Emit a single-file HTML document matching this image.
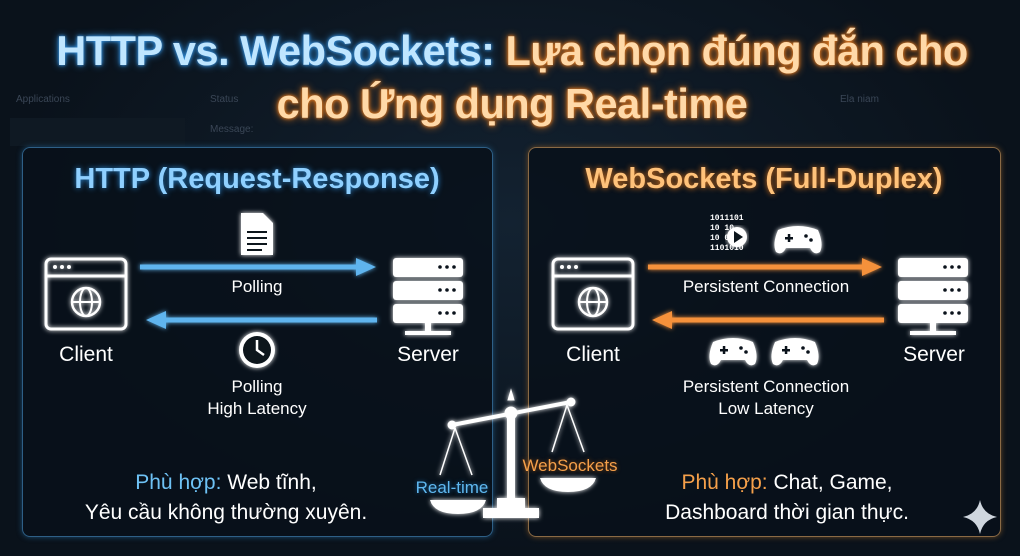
<!DOCTYPE html>
<html><head><meta charset="utf-8"><style>
body{margin:0;width:1020px;height:556px;overflow:hidden;background:#0a121b;font-family:"Liberation Sans","Noto Sans CJK SC",sans-serif;position:relative}
.a{position:absolute}
.t{position:absolute;white-space:nowrap;text-align:center;transform:translateX(-50%)}
.panel{position:absolute;border-radius:8px;background:rgba(8,16,26,0.85)}
.faint{color:#3a4656;font-size:10px;position:absolute}
</style></head><body>
<div class="a" style="left:0;top:0;width:1020px;height:556px;background:radial-gradient(ellipse at 50% 40%,#132231 0%,#0a121b 70%)"></div>
<div class="faint" style="left:16px;top:94px">Applications</div>
<div class="faint" style="left:210px;top:94px">Status</div>
<div class="faint" style="left:840px;top:94px">Ela niam</div>
<div class="faint" style="left:48px;top:128px">Overview</div>
<div class="faint" style="left:210px;top:124px">Message:</div>
<div class="a" style="left:10px;top:118px;width:175px;height:28px;background:#0f1923"></div>

<div class="t" style="left:512px;top:24px;font-size:41.5px;font-weight:bold;letter-spacing:-0.5px;line-height:53px">
<span style="color:#bfe6ff;text-shadow:0 0 8px #2b8ad6,0 0 3px #4aa8ff">HTTP vs. WebSockets:</span> <span style="color:#ffd9a8;text-shadow:0 0 8px #e0761a,0 0 3px #ff8c2a">Lựa chọn đúng đắn cho</span><br>
<span style="color:#ffd9a8;text-shadow:0 0 8px #e0761a,0 0 3px #ff8c2a">cho Ứng dụng Real-time</span></div>

<div class="panel" style="left:22px;top:147px;width:469px;height:388px;border:1.5px solid #2e5f86;box-shadow:0 0 6px #1d4c70"></div>
<div class="panel" style="left:528px;top:147px;width:471px;height:388px;border:1.5px solid #8a6a45;box-shadow:0 0 6px #6b4a25"></div>

<div class="t" style="left:257px;top:163px;font-size:29px;font-weight:bold;color:#8fd0ff;text-shadow:0 0 6px #2b8ad6">HTTP (Request-Response)</div>
<div class="t" style="left:764px;top:163px;font-size:29px;font-weight:bold;color:#ffc27a;text-shadow:0 0 6px #e0761a">WebSockets (Full-Duplex)</div>

<svg class="a" style="left:0;top:0" width="1020" height="556">
<defs>
<filter id="g"><feGaussianBlur stdDeviation="2.5" result="b"/><feMerge><feMergeNode in="b"/><feMergeNode in="SourceGraphic"/></feMerge></filter>
</defs>
<g filter="url(#g)" stroke="#fff" fill="none" stroke-width="3">
<rect x="46" y="259" width="80" height="70" rx="5"/><line x1="46" y1="276" x2="126" y2="276"/>
<circle cx="86" cy="302" r="14" stroke-width="2.5"/><ellipse cx="86" cy="302" rx="6" ry="14" stroke-width="2"/><line x1="72" y1="302" x2="100" y2="302" stroke-width="2"/>
<rect x="553" y="259" width="80" height="70" rx="5"/><line x1="553" y1="276" x2="633" y2="276"/>
<circle cx="593" cy="302" r="14" stroke-width="2.5"/><ellipse cx="593" cy="302" rx="6" ry="14" stroke-width="2"/><line x1="579" y1="302" x2="607" y2="302" stroke-width="2"/>
</g>
<g fill="#fff" filter="url(#g)">
<circle cx="55" cy="267" r="2"/><circle cx="62" cy="267" r="2"/><circle cx="69" cy="267" r="2"/>
<circle cx="562" cy="267" r="2"/><circle cx="569" cy="267" r="2"/><circle cx="576" cy="267" r="2"/>
<rect x="393" y="258" width="70" height="19" rx="3"/><rect x="393" y="281" width="70" height="19" rx="3"/><rect x="393" y="304" width="70" height="19" rx="3"/>
<rect x="425" y="323" width="6" height="10"/><rect x="405" y="331" width="46" height="4"/>
<rect x="898" y="258" width="70" height="19" rx="3"/><rect x="898" y="281" width="70" height="19" rx="3"/><rect x="898" y="304" width="70" height="19" rx="3"/>
<rect x="930" y="323" width="6" height="10"/><rect x="910" y="331" width="46" height="4"/>
</g>
<g fill="#0a121b">
<circle cx="440" cy="267" r="1.8"/><circle cx="447" cy="267" r="1.8"/><circle cx="454" cy="267" r="1.8"/>
<circle cx="440" cy="290" r="1.8"/><circle cx="447" cy="290" r="1.8"/><circle cx="454" cy="290" r="1.8"/>
<circle cx="440" cy="313" r="1.8"/><circle cx="447" cy="313" r="1.8"/><circle cx="454" cy="313" r="1.8"/>
<circle cx="945" cy="267" r="1.8"/><circle cx="952" cy="267" r="1.8"/><circle cx="959" cy="267" r="1.8"/>
<circle cx="945" cy="290" r="1.8"/><circle cx="952" cy="290" r="1.8"/><circle cx="959" cy="290" r="1.8"/>
<circle cx="945" cy="313" r="1.8"/><circle cx="952" cy="313" r="1.8"/><circle cx="959" cy="313" r="1.8"/>
</g>
<g filter="url(#g)">
<line x1="140" y1="267" x2="360" y2="267" stroke="#5fb4ee" stroke-width="5"/><polygon points="356,258 376,267 356,276" fill="#5fb4ee"/>
<line x1="162" y1="320" x2="377" y2="320" stroke="#5fb4ee" stroke-width="5"/><polygon points="166,311 146,320 166,329" fill="#5fb4ee"/>
<line x1="648" y1="267" x2="866" y2="267" stroke="#f5913a" stroke-width="5"/><polygon points="862,258 882,267 862,276" fill="#f5913a"/>
<line x1="668" y1="320" x2="884" y2="320" stroke="#f5913a" stroke-width="5"/><polygon points="672,311 652,320 672,329" fill="#f5913a"/>
</g>
<g filter="url(#g)">
<path d="M241 213 h22 l10 10 v32 h-32 z" fill="#fff"/>
<g stroke="#0a121b" stroke-width="2"><line x1="247" y1="232" x2="267" y2="232"/><line x1="247" y1="238" x2="267" y2="238"/><line x1="247" y1="244" x2="267" y2="244"/><line x1="247" y1="250" x2="262" y2="250"/></g>
<circle cx="257" cy="350" r="18" fill="#fff"/><circle cx="257" cy="350" r="14" fill="#0a121b"/>
<path d="M257 340 v10 l7 5" stroke="#fff" stroke-width="2.5" fill="none"/>
</g>
<text x="710" y="220" font-size="8" fill="#fff" font-family="Liberation Mono" font-weight="bold">1011101</text>
<text x="710" y="230" font-size="8" fill="#fff" font-family="Liberation Mono" font-weight="bold">10    10</text>
<text x="710" y="240" font-size="8" fill="#fff" font-family="Liberation Mono" font-weight="bold">10    01</text>
<text x="710" y="250" font-size="8" fill="#fff" font-family="Liberation Mono" font-weight="bold">1101010</text>
<g filter="url(#g)" fill="#fff">
<circle cx="737" cy="237" r="10"/><polygon points="734,231 743,237 734,243" fill="#0a121b"/>
</g>
<g filter="url(#g)" fill="#fff">
<path d="M778 230 q20 -8 40 0 q6 14 2 22 q-6 4 -10 -4 h-24 q-4 8 -10 4 q-4 -8 2 -22z"/>
<path d="M713 342 q20 -8 40 0 q6 14 2 22 q-6 4 -10 -4 h-24 q-4 8 -10 4 q-4 -8 2 -22z"/>
<path d="M775 342 q20 -8 40 0 q6 14 2 22 q-6 4 -10 -4 h-24 q-4 8 -10 4 q-4 -8 2 -22z"/>
</g>
<g fill="#0a121b">
<rect x="785" y="237" width="8" height="2.5"/><rect x="787.8" y="234" width="2.5" height="8"/><circle cx="806" cy="236" r="1.8"/><circle cx="811" cy="240" r="1.8"/>
<rect x="720" y="349" width="8" height="2.5"/><rect x="722.8" y="346" width="2.5" height="8"/><circle cx="741" cy="348" r="1.8"/><circle cx="746" cy="352" r="1.8"/>
<rect x="782" y="349" width="8" height="2.5"/><rect x="784.8" y="346" width="2.5" height="8"/><circle cx="803" cy="348" r="1.8"/><circle cx="808" cy="352" r="1.8"/>
</g>
<g filter="url(#g)" stroke="#fff" fill="#fff">
<line x1="452" y1="425" x2="571" y2="402" stroke-width="4"/>
<rect x="507" y="412" width="8" height="88" stroke="none"/>
<circle cx="511" cy="413" r="6"/><circle cx="452" cy="425" r="4"/><circle cx="571" cy="402" r="4"/>
<path d="M511 390 l3 10 h-6 z"/>
<path d="M497 498 h28 v10 h14 v10 h-56 v-10 h14 z" stroke="none"/>
<line x1="455" y1="428" x2="440" y2="475" stroke-width="1.5"/><line x1="455" y1="428" x2="472" y2="475" stroke-width="1.5"/>
<line x1="567" y1="405" x2="552" y2="452" stroke-width="1.5"/><line x1="567" y1="405" x2="584" y2="452" stroke-width="1.5"/>
<path d="M430 500 h56 q-4 14 -28 14 q-24 0 -28 -14z" stroke="none"/>
<path d="M540 478 h56 q-4 14 -28 14 q-24 0 -28 -14z" stroke="none"/>
</g>
<path d="M980 500 q3 14 17 17 q-14 3 -17 17 q-3 -14 -17 -17 q14 -3 17 -17z" fill="#cfd6de"/>
</svg>

<div class="t" style="left:257px;top:277px;font-size:17px;color:#fff">Polling</div>
<div class="t" style="left:257px;top:376px;font-size:17px;color:#fff;line-height:22px">Polling<br>High Latency</div>
<div class="t" style="left:86px;top:343px;font-size:21px;color:#fff">Client</div>
<div class="t" style="left:428px;top:343px;font-size:21px;color:#fff">Server</div>
<div class="t" style="left:766px;top:277px;font-size:17px;color:#fff">Persistent Connection</div>
<div class="t" style="left:766px;top:376px;font-size:17px;color:#fff;line-height:22px">Persistent Connection<br>Low Latency</div>
<div class="t" style="left:593px;top:343px;font-size:21px;color:#fff">Client</div>
<div class="t" style="left:934px;top:343px;font-size:21px;color:#fff">Server</div>

<div class="t" style="left:452px;top:478px;font-size:17px;color:#5fb8f0;text-shadow:0 0 4px #1a5d90">Real-time</div>
<div class="t" style="left:570px;top:456px;font-size:17px;color:#f5a04a;text-shadow:0 0 4px #904a10">WebSockets</div>

<div class="t" style="left:226px;top:468px;font-size:21px;color:#fff;line-height:30px"><span style="color:#6ec2f5">Phù hợp:</span> Web tĩnh,<br>Yêu cầu không thường xuyên.</div>
<div class="t" style="left:787px;top:468px;font-size:21px;color:#fff;line-height:30px"><span style="color:#f5a04a">Phù hợp:</span> Chat, Game,<br>Dashboard thời gian thực.</div>
</body></html>
